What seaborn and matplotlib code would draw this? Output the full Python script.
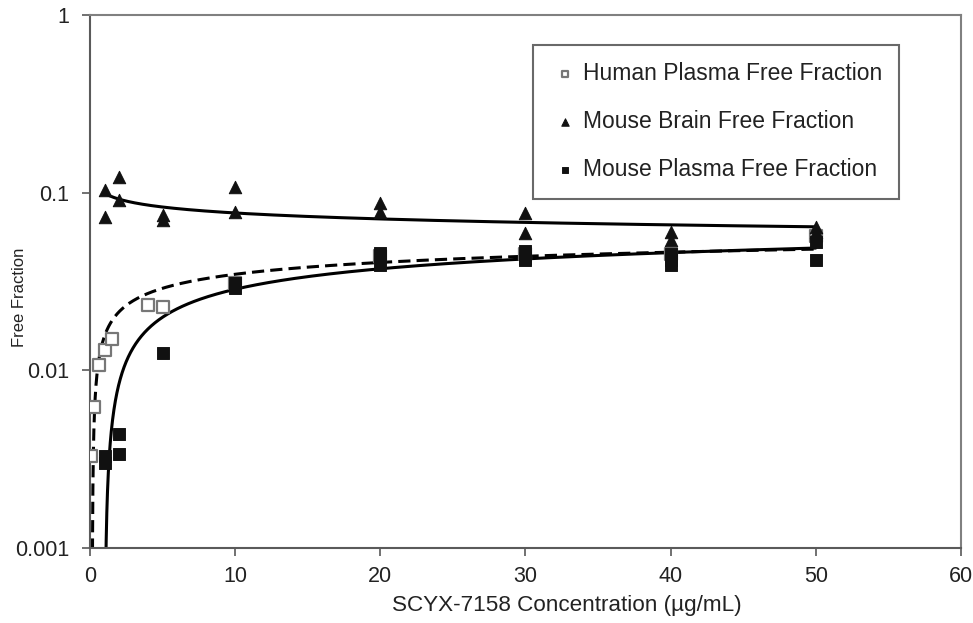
import numpy as np
import pandas as pd
import seaborn as sns
import matplotlib.pyplot as plt
from matplotlib.ticker import FixedLocator, NullLocator

# values
human_x = [0.1, 0.25, 0.6, 1.0, 1.5, 4, 5, 10, 20, 30, 40, 50]
human_y = [0.0033, 0.0062, 0.0107, 0.013, 0.015, 0.0233, 0.0228,
           0.031, 0.044, 0.045, 0.045, 0.057]

brain_x = [1, 1, 2, 2, 5, 5, 10, 10, 20, 20, 30, 30, 40, 40, 50, 50]
brain_y = [0.104, 0.073, 0.123, 0.091, 0.075, 0.070, 0.108, 0.078,
           0.087, 0.078, 0.077, 0.059, 0.060, 0.054, 0.064, 0.060]

mplasma_x = [1, 1, 2, 2, 5, 10, 10, 20, 20, 20, 30, 30, 30, 40, 40, 40, 50, 50]
mplasma_y = [0.0033, 0.0030, 0.0044, 0.0034, 0.0125, 0.029, 0.031,
             0.046, 0.044, 0.039, 0.047, 0.043, 0.042, 0.045, 0.042, 0.039,
             0.053, 0.042]

x_ticks = [0, 10, 20, 30, 40, 50, 60]
y_ticks = [0.001, 0.01, 0.1, 1]
y_tick_labels = ["0.001", "0.01", "0.1", "1"]

human = pd.DataFrame({"x": human_x, "y": human_y})
brain = pd.DataFrame({"x": brain_x, "y": brain_y})
mplasma = pd.DataFrame({"x": mplasma_x, "y": mplasma_y})

sns.set_style("ticks")
plt.rcParams["font.family"] = ["Liberation Sans", "DejaVu Sans"]

fig = plt.figure(figsize=(9.73, 6.23), dpi=100)
ax = fig.add_axes([0.0925, 0.12, 0.895, 0.856])


# trendlines fitted to the points (log fit for plasma, power fit for brain)
def log_fit(df):
    b, a = np.polyfit(np.log(df["x"]), df["y"], 1)
    gx = np.geomspace(df["x"].min(), df["x"].max(), 400)
    return pd.DataFrame({"x": gx, "y": a + b * np.log(gx)})


def power_fit(df):
    b, a = np.polyfit(np.log(df["x"]), np.log(df["y"]), 1)
    gx = np.geomspace(df["x"].min(), df["x"].max(), 400)
    return pd.DataFrame({"x": gx, "y": np.exp(a) * gx ** b})


ax.set_yscale("log", nonpositive="clip")

sns.lineplot(data=log_fit(human), x="x", y="y", ax=ax, color="black",
             lw=2.2, linestyle=(0, (4, 2)), sort=False, zorder=2)
sns.lineplot(data=log_fit(mplasma), x="x", y="y", ax=ax, color="black",
             lw=2.2, sort=False, zorder=2)
sns.lineplot(data=power_fit(brain), x="x", y="y", ax=ax, color="black",
             lw=2.2, sort=False, zorder=2)

sns.scatterplot(data=human, x="x", y="y", ax=ax, marker="s", s=70,
                facecolor="white", edgecolor="#777777", linewidth=1.6,
                label="Human Plasma Free Fraction", zorder=3)
sns.scatterplot(data=brain, x="x", y="y", ax=ax, marker="^", s=80,
                color="#111111", edgecolor="#111111",
                label="Mouse Brain Free Fraction", zorder=4)
sns.scatterplot(data=mplasma, x="x", y="y", ax=ax, marker="s", s=70,
                color="#111111", edgecolor="#111111",
                label="Mouse Plasma Free Fraction", zorder=5)

ax.set_xlim(0, 60)
ax.set_ylim(0.001, 1)
ax.set_xticks(x_ticks)
ax.yaxis.set_major_locator(FixedLocator(y_ticks))
ax.yaxis.set_minor_locator(NullLocator())
ax.set_yticklabels(y_tick_labels)
ax.tick_params(axis="both", labelsize=15.5, length=6, width=1.3,
               color="#666666", labelcolor="#222222", direction="out")
ax.tick_params(axis="x", pad=7)
ax.tick_params(axis="y", pad=9)

for side in ["left", "bottom", "top", "right"]:
    ax.spines[side].set_color("#808080")
    ax.spines[side].set_linewidth(1.5)
ax.spines["left"].set_color("#5a5a5a")
ax.spines["bottom"].set_color("#5a5a5a")

ax.set_xlabel("SCYX-7158 Concentration (µg/mL)", fontsize=16.2,
              color="#222222")
ax.xaxis.set_label_coords(0.547, -0.088)
ax.set_ylabel("Free Fraction", fontsize=12, color="#222222")
ax.yaxis.set_label_coords(-0.072, 0.47)

leg = ax.legend(loc="upper left", bbox_to_anchor=(0.509, 0.944),
                borderaxespad=0, fontsize=16.5, markerscale=0.6,
                handletextpad=0.1, handlelength=1.3, labelspacing=1.1,
                borderpad=0.75, frameon=True, fancybox=False,
                edgecolor="#444444")
leg.get_frame().set_linewidth(1.5)
for t in leg.get_texts():
    t.set_color("#222222")

fig.savefig("out.png", dpi=100)
